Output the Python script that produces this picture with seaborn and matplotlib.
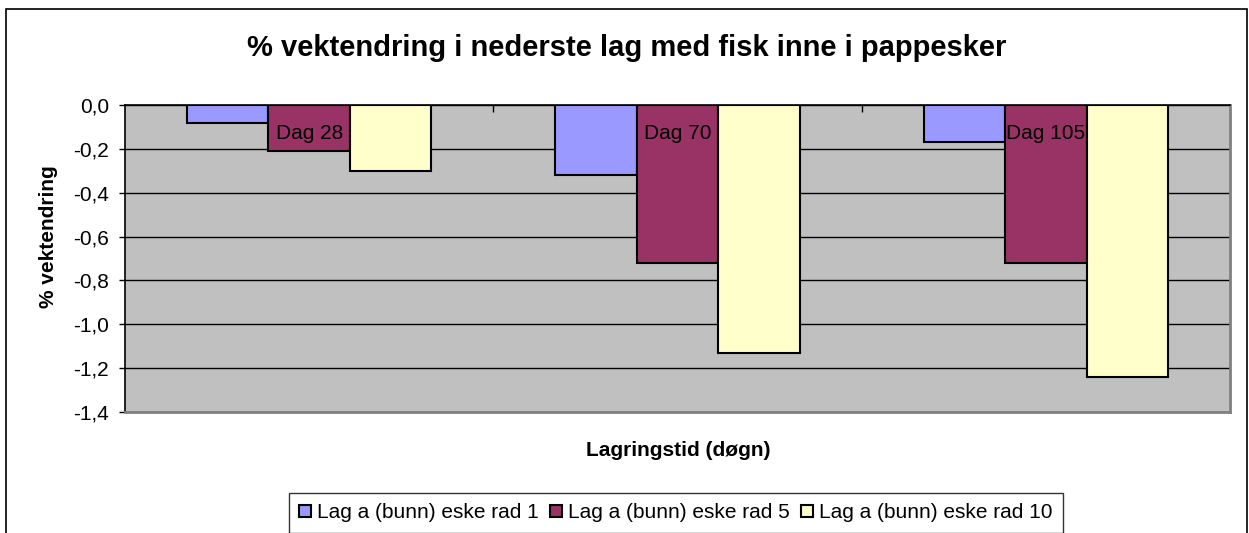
import pandas as pd
import matplotlib.pyplot as plt
import seaborn as sns
from matplotlib.patches import Rectangle
from matplotlib.ticker import FuncFormatter, MultipleLocator

# values
days = ['Dag 28', 'Dag 70', 'Dag 105']
series = ['Lag a (bunn) eske rad 1', 'Lag a (bunn) eske rad 5', 'Lag a (bunn) eske rad 10']
rad1 = [-0.08, -0.32, -0.17]
rad5 = [-0.21, -0.72, -0.72]
rad10 = [-0.30, -1.13, -1.24]
colors = ['#9999FF', '#993366', '#FFFFCC']

rows = []
for s, vals in zip(series, [rad1, rad5, rad10]):
    for d, v in zip(days, vals):
        rows.append({'dag': d, 'serie': s, 'verdi': v})
df = pd.DataFrame(rows)

sns.set_style('white', {'text.color': 'black', 'axes.labelcolor': 'black',
                        'xtick.color': 'black', 'ytick.color': 'black'})
plt.rcParams['font.family'] = ['Liberation Sans', 'DejaVu Sans']

W, H = 1249, 533
fig = plt.figure(figsize=(W / 100, H / 100), dpi=100)
ax = fig.add_axes([125 / W, 1 - 412 / H, 1105 / W, 307 / H])

sns.barplot(data=df, x='dag', y='verdi', hue='serie', order=days, hue_order=series,
            palette=colors, width=0.664, edgecolor='black', linewidth=1.5,
            saturation=1, ax=ax, legend=True)

ax.set_facecolor('#C0C0C0')
ax.set_ylim(-1.4, 0)
ax.set_xlim(-0.5, 2.5)
ax.yaxis.set_major_locator(MultipleLocator(0.2))
ax.yaxis.set_major_formatter(FuncFormatter(lambda v, p: f'{v:.1f}'.replace('.', ',')))
ax.grid(axis='y', color='black', linewidth=1)
ax.set_axisbelow(True)

for side in ['top', 'left']:
    ax.spines[side].set_color('black')
    ax.spines[side].set_linewidth(1.2)
for side in ['right', 'bottom']:
    ax.spines[side].set_color('#808080')
    ax.spines[side].set_linewidth(2)
ax.spines['top'].set_zorder(5)

ax.tick_params(axis='y', direction='out', length=4.5, width=1, color='black',
               labelsize=15, labelcolor='black', left=True, pad=7)
ax.set_xticks([0.5, 1.5])
ax.set_xticklabels([])
ax.tick_params(axis='x', direction='in', length=5, width=1, color='black',
               top=True, bottom=False, labeltop=False, labelbottom=False)

for i, d in enumerate(days):
    ax.text(i, -0.128, d, ha='center', va='center', fontsize=15, color='black', zorder=6)

ax.set_xlabel('')
ax.set_ylabel('% vektendring', fontsize=15, fontweight='bold', color='black')
ax.yaxis.set_label_coords(-0.061, 0.57)
fig.text(678 / W, 1 - 451 / H, 'Lagringstid (døgn)', ha='center', va='center',
         fontsize=15, fontweight='bold', color='black')
fig.text(627 / W, 1 - 48 / H, '% vektendring i nederste lag med fisk inne i pappesker',
         ha='center', va='center', fontsize=21, fontweight='bold', color='black')

handles, labels = ax.get_legend_handles_labels()
ax.get_legend().remove()
leg = fig.legend(handles, labels, loc='upper center', bbox_to_anchor=(676 / W, 1 - 493 / H),
                 ncol=3, fontsize=15, frameon=True, fancybox=False, edgecolor='black',
                 handlelength=0.55, handleheight=0.55, handletextpad=0.3, columnspacing=0.55,
                 borderpad=0.5, borderaxespad=0, labelcolor='black')
leg.get_frame().set_linewidth(1)

fig.patches.append(Rectangle((6 / W, -0.1), 1241 / W, 1.1 - 9 / H, transform=fig.transFigure,
                             fill=False, edgecolor='black', linewidth=1.2))

fig.savefig('out.png', dpi=100)
